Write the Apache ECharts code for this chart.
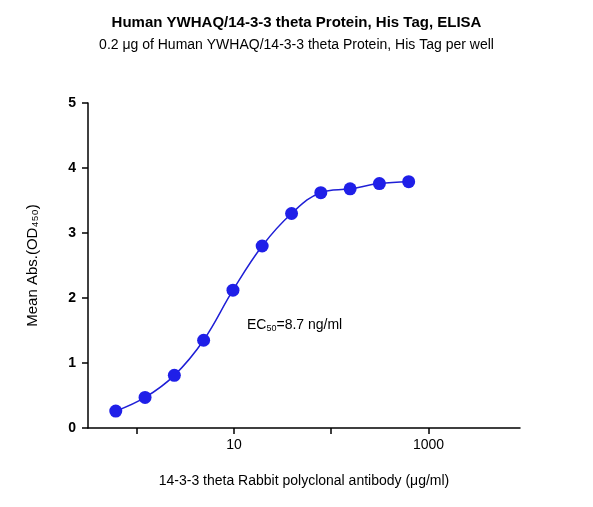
<!DOCTYPE html>
<html><head><meta charset="utf-8">
<script src="https://cdn.jsdelivr.net/npm/echarts@6/dist/echarts.min.js"></script>
<style>html,body{margin:0;padding:0;background:#fff}#c{width:593px;height:507px}</style>
</head><body><div id="c"></div>
<script>
const concentrations = [0.61, 1.22, 2.44, 4.88, 9.77, 19.5, 39.1, 78.1, 156.3, 312.5, 625];
const absorbance = [0.26, 0.47, 0.81, 1.35, 2.12, 2.80, 3.30, 3.62, 3.68, 3.76, 3.79];
const xTickValues = [0, 1, 2, 3];
const xTickLabels = {1: '10', 3: '1000'};
const yTicks = [0, 1, 2, 3, 4, 5];

const chart = echarts.init(document.getElementById('c'));
const data = concentrations.map((c, i) => [Math.log10(c), absorbance[i]]);
const font = 'Arial, "Liberation Sans", sans-serif';
chart.setOption({
  animation: false,
  title: [
    {text: 'Human YWHAQ/14-3-3 theta Protein, His Tag, ELISA', left: 'center', top: 10,
     textStyle: {fontSize: 15, fontWeight: 'bold', color: '#000', fontFamily: font}},
    {text: '0.2 μg of Human YWHAQ/14-3-3 theta Protein, His Tag per well', left: 'center', top: 33,
     textStyle: {fontSize: 14, fontWeight: 'normal', color: '#000', fontFamily: font}}
  ],
  grid: {left: 88, right: 73, top: 103, bottom: 79},
  xAxis: {
    type: 'value', min: -0.5, max: 3.94,
    name: '14-3-3 theta Rabbit polyclonal antibody (μg/ml)', nameLocation: 'middle', nameGap: 46,
    nameTextStyle: {fontSize: 14, color: '#000', fontFamily: font},
    axisLine: {onZero: false, lineStyle: {color: '#000', width: 1.5}},
    axisTick: {customValues: xTickValues, length: 6, lineStyle: {color: '#000', width: 1.5}},
    axisLabel: {customValues: xTickValues, formatter: v => xTickLabels[Math.round(v)] || '',
      fontSize: 14, color: '#000', fontFamily: font, margin: 10},
    splitLine: {show: false}
  },
  yAxis: {
    type: 'value', min: 0, max: 5, interval: 1,
    name: 'Mean Abs.(OD₄₅₀)', nameLocation: 'middle', nameGap: 48,
    nameTextStyle: {fontSize: 15, color: '#000', fontFamily: font},
    axisLine: {show: true, onZero: false, lineStyle: {color: '#000', width: 1.5}},
    axisTick: {show: true, length: 6, lineStyle: {color: '#000', width: 1.5}},
    axisLabel: {fontSize: 14, color: '#000', fontFamily: font, fontWeight: 'bold', margin: 12},
    splitLine: {show: false}
  },
  graphic: [{type: 'text', left: 247, top: 318,
    style: {rich: {a: {fontSize: 14, fontFamily: font, fill: '#000'}, s: {fontSize: 9, fontFamily: font, fill: '#000', verticalAlign: 'bottom', padding: [8,0,0,0]}},
      text: '{a|EC}{s|50}{a|=8.7 ng/ml}'}}],
  series: [{
    type: 'line', data: data, smooth: 0.4,
    symbol: 'circle', symbolSize: 13,
    lineStyle: {color: '#1f1fd6', width: 1.5},
    itemStyle: {color: '#1f1fe8'}
  }]
});
</script></body></html>
